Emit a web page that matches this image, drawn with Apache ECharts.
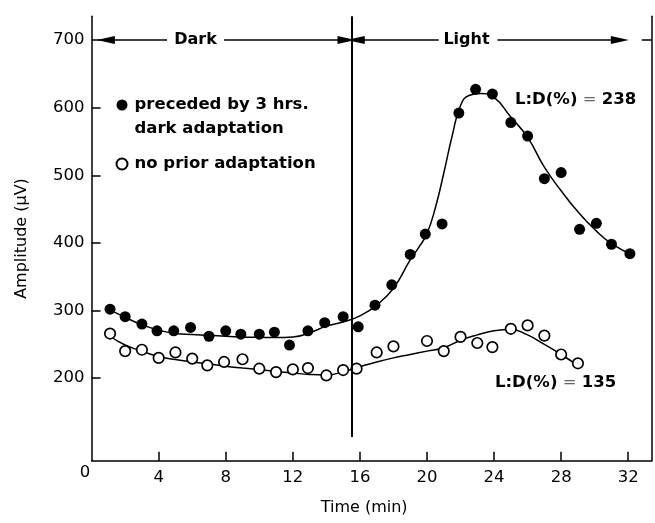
<!DOCTYPE html>
<html><head><meta charset="utf-8">
<script src="https://cdn.jsdelivr.net/npm/echarts@6/dist/echarts.min.js"></script>
<style>html,body{margin:0;padding:0;background:#fff}#c{width:655px;height:523px}</style>
</head><body><div id="c"></div>
<script>
// ---- data ----
const xTicks = [4, 8, 12, 16, 20, 24, 28, 32];
const yTicks = [200, 300, 400, 500, 600, 700];

const filledTime = [1.1,2.0,3.0,3.9,4.9,5.9,7.0,8.0,8.9,10.0,10.9,11.8,12.9,13.9,15.0,15.9,16.9,17.9,19.0,19.9,20.9,21.9,22.9,23.9,25.0,26.0,27.0,28.0,29.1,30.1,31.0,32.1];
const filledAmp  = [302,291,280,270,270,275,262,270,265,265,268,249,270,282,291,276,308,338,383,413,428,592,627,620,578,558,495,504,420,429,398,384];

const openTime = [1.1,2.0,3.0,4.0,5.0,6.0,6.9,7.9,9.0,10.0,11.0,12.0,12.9,14.0,15.0,15.8,17.0,18.0,20.0,21.0,22.0,23.0,23.9,25.0,26.0,27.0,28.0,29.0];
const openAmp  = [266,240,242,230,238,229,219,224,228,214,209,213,215,204,212,214,238,247,255,240,261,252,246,273,278,263,235,222];

// fitted curves
const filledFitTime = [1.0,2.0,3.0,4.0,5.0,6.0,7.0,8.0,9.0,10.0,11.0,12.0,13.0,14.0,15.0,16.0,17.0,18.0,19.0,19.5,20.0,20.5,21.0,21.5,22.0,22.5,23.2,24.0,25.0,26.0,27.0,28.0,29.0,30.0,31.0,32.3];
const filledFitAmp  = [302,290,279,271,266,264.5,263.5,262,261,260.5,260,261,267,277,283,292,308,333,375,393,414,452,503,558,603,618,621,615,586,556,512,477,446,420,399,382];

const openFitTime = [1.1,2.0,3.0,4.0,5.0,6.0,7.0,8.0,9.0,10.0,11.0,12.0,13.0,14.0,15.0,16.0,17.0,18.0,19.0,20.0,21.0,22.0,23.0,24.0,25.0,26.0,27.0,28.0,29.1];
const openFitAmp  = [262,249,240,232,227.5,224,221,217.6,215,212.6,210,207.7,205.5,204.7,209.5,217,224,230,235,240,245,256,264,270,272,264,250,235,217];

const lightOnset = 15.5;
const nameFilled = 'preceded by 3 hrs. dark adaptation';
const nameOpen = 'no prior adaptation';
const ratioFilled = '238';
const ratioOpen = '135';

const zip = (a, b) => a.map((v, i) => [v, b[i]]);
const FONT = '"DejaVu Sans", "Liberation Sans", Arial, sans-serif';

const chart = echarts.init(document.getElementById('c'), null, {renderer: 'canvas'});
const axisLineStyle = {color: '#000', width: 1.5};

chart.setOption({
  animation: false,
  backgroundColor: '#fff',
  grid: {left: 91.6, right: 3.3, top: 16.3, bottom: 62.3, containLabel: false},
  xAxis: {
    type: 'value', min: 0, max: 33.4,
    axisLine: {onZero: false, lineStyle: axisLineStyle},
    axisTick: {inside: true, length: 9, customValues: xTicks, lineStyle: axisLineStyle},
    axisLabel: {customValues: xTicks, margin: 9, fontSize: 16.5, color: '#000', fontFamily: FONT},
    splitLine: {show: false},
    name: 'Time (min)', nameLocation: 'middle', nameGap: 39,
    nameTextStyle: {fontSize: 16, color: '#000', fontFamily: FONT, padding: [0, 15, 0, 0]}
  },
  yAxis: [{
    type: 'value', min: 78, max: 735, position: 'left',
    axisLine: {onZero: false, lineStyle: axisLineStyle},
    axisTick: {inside: true, length: 9, customValues: yTicks, lineStyle: axisLineStyle},
    axisLabel: {customValues: yTicks, margin: 7, fontSize: 16.5, color: '#000', fontFamily: FONT},
    splitLine: {show: false},
    name: 'Amplitude (\u00B5V)', nameLocation: 'middle', nameGap: 62, nameRotate: 90,
    nameTextStyle: {fontSize: 16, color: '#000', fontFamily: FONT}
  }, {
    type: 'value', min: 78, max: 735, position: 'right',
    axisLine: {show: true, onZero: false, lineStyle: axisLineStyle},
    axisTick: {show: true, inside: true, length: 10, customValues: [700], lineStyle: axisLineStyle},
    axisLabel: {show: false},
    splitLine: {show: false}
  }],
  legend: {
    orient: 'vertical', left: 115.5, top: 69, padding: 0, itemGap: 11,
    itemWidth: 11, itemHeight: 11,
    textStyle: {fontSize: 16.5, fontWeight: 'bold', color: '#000', fontFamily: FONT, lineHeight: 24, padding: [0, 0, 0, 2]},
    formatter: n => n === nameFilled ? ' \npreceded by 3 hrs.\ndark adaptation' : n,
    data: [
      {name: nameFilled, icon: 'circle'},
      {name: nameOpen, icon: 'circle'}
    ],
    selectedMode: false
  },
  series: [
    {
      name: 'fitFilled', type: 'line', data: zip(filledFitTime, filledFitAmp),
      smooth: 0.5, showSymbol: false, silent: true, z: 2,
      lineStyle: {color: '#000', width: 1.5},
      markLine: {
        silent: true, symbol: ['none', 'none'], symbolSize: [8, 18],
        label: {show: false},
        lineStyle: {color: '#000', width: 1.5, type: 'solid'},
        data: [
          [{coord: [0.85, 700], symbol: 'triangle'}, {coord: [4.5, 700], symbol: 'none'}],
          [{coord: [7.9, 700], symbol: 'none'}, {coord: [15.2, 700], symbol: 'triangle'}],
          [{coord: [15.75, 700], symbol: 'triangle'}, {coord: [20.7, 700], symbol: 'none'}],
          [{coord: [24.2, 700], symbol: 'none'}, {coord: [31.5, 700], symbol: 'triangle'}],
          [{coord: [lightOnset, 113], symbol: 'none', lineStyle: {width: 2}}, {coord: [lightOnset, 735], symbol: 'none'}]
        ]
      }
    },
    {
      name: 'fitOpen', type: 'line', data: zip(openFitTime, openFitAmp),
      smooth: 0.5, showSymbol: false, silent: true, z: 2,
      lineStyle: {color: '#000', width: 1.5}
    },
    {
      name: nameFilled, type: 'scatter', data: zip(filledTime, filledAmp),
      symbol: 'circle', symbolSize: 11, z: 3,
      itemStyle: {color: '#000', opacity: 1}
    },
    {
      name: nameOpen, type: 'scatter', data: zip(openTime, openAmp),
      symbol: 'circle', symbolSize: 10.5, z: 4,
      itemStyle: {color: '#fff', borderColor: '#000', borderWidth: 1.7, opacity: 1}
    }
  ],
  graphic: [
    {type: 'text', x: 195.5, y: 40, style: {text: 'Dark', font: 'bold 16px ' + FONT, fill: '#000', align: 'center', verticalAlign: 'middle'}},
    {type: 'text', x: 466.5, y: 40, style: {text: 'Light', font: 'bold 16px ' + FONT, fill: '#000', align: 'center', verticalAlign: 'middle'}},
    {type: 'text', x: 515, y: 100, style: {
      text: '{b|L:D(%)}{e| = }{b|' + ratioFilled + '}', align: 'left', verticalAlign: 'middle',
      rich: {b: {font: 'bold 16.5px ' + FONT, fill: '#000'}, e: {font: '16.5px ' + FONT, fill: '#666'}}}},
    {type: 'text', x: 495, y: 383, style: {
      text: '{b|L:D(%)}{e| = }{b|' + ratioOpen + '}', align: 'left', verticalAlign: 'middle',
      rich: {b: {font: 'bold 16.5px ' + FONT, fill: '#000'}, e: {font: '16.5px ' + FONT, fill: '#666'}}}},
    {type: 'text', x: 85, y: 473, style: {text: '0', font: '16.5px ' + FONT, fill: '#000', align: 'center', verticalAlign: 'middle'}}
  ]
});
</script>
</body></html>
